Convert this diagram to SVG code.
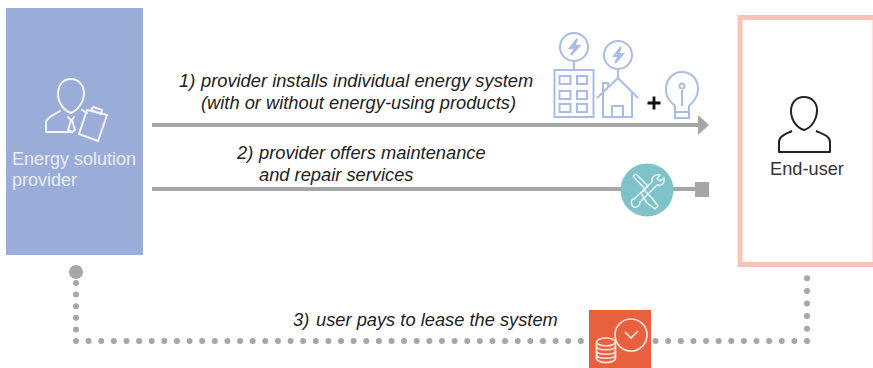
<svg xmlns="http://www.w3.org/2000/svg" width="873" height="368" viewBox="0 0 873 368">
<style>
text{font-family:"Liberation Sans",Arial,sans-serif}
.lbl{font-size:18.3px;font-style:italic;fill:#222}
.ln{stroke:#a6a6a6;stroke-width:4;fill:none}
.dots{fill:none;stroke:#a6a6a6;stroke-width:6;stroke-linecap:round}
.bl{fill:none;stroke:#a9bce3;stroke-width:2}
.wh{fill:none;stroke:#f2f4fa;stroke-width:2;stroke-linejoin:round;stroke-linecap:round}
.wt{fill:none;stroke:#e8f5f6;stroke-width:1.5;stroke-linejoin:round}
.or{fill:none;stroke:#fbe3d9;stroke-width:1.7}
</style>
<rect width="873" height="368" fill="#fff"/>
<g id="connectors">
<path class="ln" d="M152 125H700"/>
<path d="M698 115L709 125L698 135Z" fill="#a6a6a6"/>
<path class="ln" d="M152 189H696"/>
<rect x="695" y="182" width="14" height="15" fill="#a6a6a6"/>
<circle cx="76" cy="272" r="7" fill="#a6a6a6"/>
<path class="dots" d="M76 283V335" stroke-dasharray="0 11.6"/>
<path class="dots" d="M76 341H586" stroke-dasharray="0 12.62"/>
<path class="dots" d="M807 341H652" stroke-dasharray="0 12.62"/>
<path class="dots" d="M807 335V278" stroke-dasharray="0 12.6" stroke-dashoffset="-6.3"/>
</g>
<g id="provider">
<rect x="6" y="8" width="137" height="247" fill="#9aacd8"/>
<path class="wh" d="M71 79C62 79 58 86 58 94C58 102 63 110 71 113C78 110 84 102 84 93C84 86 79 79 71 79Z"/>
<path class="wh" d="M60 111C54 115 47 117 46 122V132H72M82 110L87 113"/>
<path class="wh" d="M68 117L71 120L68 130L72 132L75 130L72 120L74 117"/>
<path class="wh" d="M87 110L107 115L98 141L79 134Z"/>
<path class="wh" d="M91 110L93 107L102 110L101 114Z"/>
<text x="12" y="165" font-size="18" fill="#e9edf7">Energy solution</text>
<text x="12" y="185.500" font-size="18" fill="#e9edf7">provider</text>
</g>
<g id="end-user">
<rect x="740" y="17.500" width="135" height="247" fill="#fff" stroke="#fbc3b5" stroke-width="5"/>
<path d="M804 97C795 97 791 104 791 111C791 120 797 128 804 130C811 128 817 120 817 110C817 103 812 97 804 97Z M792 131C786 134 779 136 779 142V152H830V142C830 136 823 134 816 131" fill="none" stroke="#222" stroke-width="2" stroke-linejoin="round"/>
<text x="807" y="175" font-size="18.200" fill="#333" text-anchor="middle">End-user</text>
</g>
<g id="label-1">
<text class="lbl" x="179" y="87">1)<tspan x="201">provider installs individual energy system</tspan></text>
<text class="lbl" x="201" y="109">(with or without energy-using products)</text>
</g>
<g id="energy-icons">
<circle class="bl" cx="574" cy="47" r="14"/>
<path class="bl" d="M577 39L570 48H575L571 55L579 46H574Z"/>
<path class="bl" d="M574 61V70"/>
<rect class="bl" x="554.500" y="70" width="39" height="47"/>
<path class="bl" d="M559.500 76h11v8h-11zM577 76h10v8h-10zM559.500 91h11v8h-11zM577 91h10v8h-10zM559.500 104h11v8h-11zM577 104h10v8h-10z"/>
<circle class="bl" cx="618" cy="55" r="14"/>
<path class="bl" d="M621 47L614 56H619L615 63L623 54H618Z"/>
<path class="bl" d="M618 69V78"/>
<path class="bl" d="M597 98L618 78L638 98M603 93V117H632V93M612 117V106H623V117M603 92V83H608V87"/>
<path d="M654 96.500V109.500M647.500 103H660.500" stroke="#111" stroke-width="2.800"/>
<path class="bl" d="M675 118V106C668 100 666 96 666 89C666 79 673 72 682 72C691 72 698 79 698 89C698 96 695 100 689 106V118ZM675 112H689M682 106V90"/>
<circle class="bl" cx="682" cy="86" r="2.500"/>
</g>
<g id="label-2">
<text class="lbl" x="237" y="159">2)<tspan x="259">provider offers maintenance</tspan></text>
<text class="lbl" x="259" y="181">and repair services</text>
</g>
<g id="tools-icon">
<circle cx="647" cy="190" r="26.500" fill="#7fc2c9"/>
<path class="wt" d="M633 176L636 174L648 186L645 189ZM644 190L652 198L658 206L655 209L647 203L641 193Z"/>
<path class="wt" d="M660 175C655 174 651 177 652 182L634 199C630 199 631 206 634 207C639 208 640 204 640 202L657 185C662 186 665 183 664 178L660 181L657 179Z"/>
</g>
<g id="label-3">
<text class="lbl" x="293" y="326">3)<tspan x="316">user pays to lease the system</tspan></text>
</g>
<g id="payment-icon">
<rect x="589" y="310" width="62" height="58" fill="#e9603f"/>
<circle class="or" cx="631" cy="335" r="16"/>
<path class="or" d="M625 332L631 338L638 331"/>
<ellipse class="or" cx="606" cy="342" rx="9.500" ry="4"/>
<path class="or" d="M596.500 342V358C596.500 364 615.500 364 615.500 358V342M596.500 346C596.500 351 615.500 351 615.500 346M596.500 350.500C596.500 355.500 615.500 355.500 615.500 350.500M596.500 354.500C596.500 359.500 615.500 359.500 615.500 354.500"/>
</g>
</svg>
